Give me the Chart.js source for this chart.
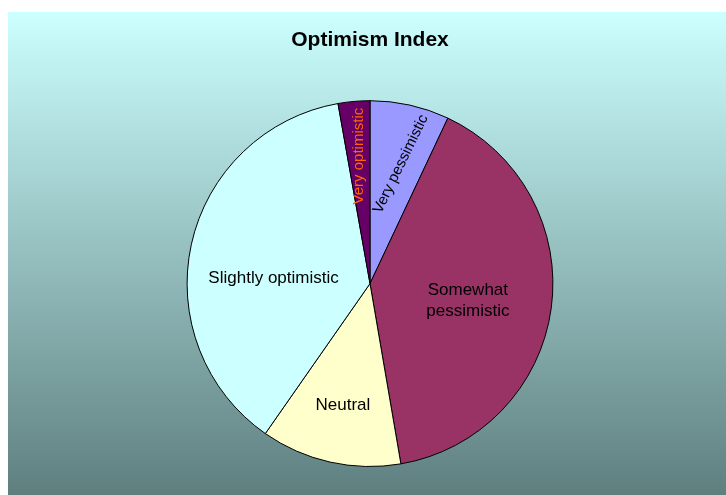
<!DOCTYPE html>
<html>
<head>
<meta charset="utf-8">
<script src="https://cdn.jsdelivr.net/npm/chart.js@4.4.0/dist/chart.umd.min.js"></script>
<style>
  html, body { margin: 0; padding: 0; background: #fff; }
  #wrap { width: 726px; height: 495px; }
</style>
</head>
<body>
<div id="wrap"><canvas id="myChart" width="726" height="495"></canvas></div>
<script>
const categories = ["Very pessimistic", "Somewhat pessimistic", "Neutral", "Slightly optimistic", "Very optimistic"];
const shares = [7.0, 40.3, 12.4, 37.5, 2.8];
const sliceColors = ["#9999ff", "#993366", "#ffffcc", "#ccffff", "#660066"];

// label look per slice
const labelStyle = [
  { r: 0.67, rot: -64, size: 15, color: "#000", lines: ["Very pessimistic"], dx: 4 },
  { r: 0.54, rot: 0, size: 17, color: "#000", lines: ["Somewhat", "pessimistic"], dy: 4 },
  { r: 0.68, rot: 0, size: 17, color: "#000", lines: ["Neutral"] },
  { r: 0.54, rot: 0, size: 17, color: "#000", lines: ["Slightly optimistic"], dy: 16 },
  { r: 0.70, rot: -90, size: 15, color: "#ff6600", lines: ["Very optimistic"] },
];

const backdrop = {
  id: "backdrop",
  beforeDraw(chart) {
    const ctx = chart.ctx;
    ctx.save();
    ctx.fillStyle = "#fff";
    ctx.fillRect(0, 0, chart.width, chart.height);
    const g = ctx.createLinearGradient(0, 12, 0, chart.height);
    g.addColorStop(0, "#ccffff");
    g.addColorStop(1, "#5f7f7f");
    ctx.fillStyle = g;
    ctx.fillRect(8, 12, chart.width - 8, chart.height - 12);
    ctx.restore();
  },
};

const sliceLabels = {
  id: "sliceLabels",
  afterDatasetsDraw(chart) {
    const ctx = chart.ctx;
    const meta = chart.getDatasetMeta(0);
    ctx.save();
    ctx.textAlign = "center";
    ctx.textBaseline = "middle";
    meta.data.forEach((arc, i) => {
      const s = labelStyle[i];
      const { x, y, startAngle, endAngle, outerRadius } = arc.getProps(["x", "y", "startAngle", "endAngle", "outerRadius"], true);
      const mid = (startAngle + endAngle) / 2;
      const px = x + Math.cos(mid) * outerRadius * s.r + (s.dx || 0);
      const py = y + Math.sin(mid) * outerRadius * s.r + (s.dy || 0);
      ctx.save();
      ctx.translate(px, py);
      ctx.rotate(s.rot * Math.PI / 180);
      ctx.font = s.size + "px 'Liberation Sans', Arial, sans-serif";
      ctx.fillStyle = s.color;
      const lh = 21;
      s.lines.forEach((t, k) => {
        ctx.fillText(t, 0, (k - (s.lines.length - 1) / 2) * lh);
      });
      ctx.restore();
    });
    ctx.restore();
  },
};

new Chart(document.getElementById("myChart"), {
  type: "pie",
  data: {
    labels: categories,
    datasets: [
      {
        data: shares,
        backgroundColor: sliceColors,
        borderColor: "#000",
        borderWidth: 1,
      },
    ],
  },
  options: {
    responsive: false,
    animation: false,
    layout: { padding: { left: 14, right: 0, top: 0, bottom: 28 } },
    plugins: {
      legend: { display: false },
      tooltip: { enabled: false },
      title: {
        display: true,
        text: "Optimism Index",
        color: "#000",
        font: { family: "'Liberation Sans', Arial, sans-serif", size: 21, weight: "bold" },
        padding: { top: 28, bottom: 47 },
      },
    },
  },
  plugins: [backdrop, sliceLabels],
});
</script>
</body>
</html>
